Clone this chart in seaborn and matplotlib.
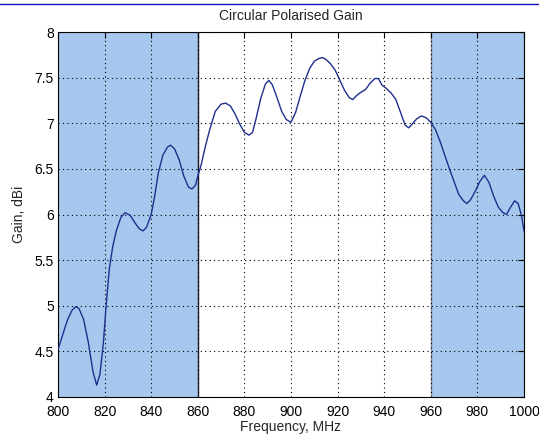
import matplotlib
matplotlib.use("Agg")
import matplotlib.pyplot as plt
from matplotlib.lines import Line2D
import numpy as np
import pandas as pd
import seaborn as sns

# Measured circular polarised gain across the band
freq_mhz = [800, 802, 804, 806, 807.6, 809, 811, 813, 815, 816.6, 818, 819.5,
            820.5, 822, 823.5, 825, 827, 828.8, 831, 833, 835, 836.5, 838, 840,
            841.5, 843, 845, 847, 848.3, 850, 852, 854, 856, 857.5, 859, 860,
            861.5, 863, 865, 867.5, 870, 872, 874, 876, 878, 880, 882, 883.5,
            885, 887, 889, 890.5, 892, 894, 896, 898, 900, 902, 904, 906, 908,
            910, 912, 913.5, 915, 917, 919, 921, 923, 925, 926.5, 928, 930, 932,
            934, 936, 937.5, 939, 941, 943, 945, 947, 949, 950.5, 952, 954, 956,
            958, 960, 962, 964, 966, 968, 970, 972, 974, 975.5, 977, 979, 981,
            983, 985, 987, 989, 991, 992.5, 994, 996, 997.5, 999, 1000]
gain_dbi = [4.52, 4.68, 4.84, 4.95, 4.99, 4.97, 4.85, 4.60, 4.28, 4.13, 4.25, 4.60,
            4.95, 5.40, 5.65, 5.82, 5.97, 6.02, 5.99, 5.91, 5.84, 5.82, 5.86, 6.00,
            6.20, 6.45, 6.65, 6.74, 6.76, 6.72, 6.60, 6.42, 6.30, 6.28, 6.32, 6.42,
            6.55, 6.72, 6.92, 7.13, 7.21, 7.22, 7.19, 7.10, 6.99, 6.90, 6.87, 6.90,
            7.05, 7.27, 7.43, 7.47, 7.42, 7.28, 7.13, 7.04, 7.01, 7.12, 7.30, 7.47, 7.60,
            7.68, 7.71, 7.72, 7.70, 7.65, 7.58, 7.47, 7.36, 7.28, 7.26, 7.30, 7.34, 7.37,
            7.44, 7.49, 7.49, 7.42, 7.38, 7.33, 7.26, 7.12, 6.98, 6.95, 6.99, 7.05, 7.08,
            7.06, 7.01, 6.93, 6.80, 6.65, 6.50, 6.36, 6.22, 6.15, 6.12, 6.16, 6.25, 6.36,
            6.43, 6.35, 6.20, 6.08, 6.02, 6.00, 6.07, 6.15, 6.12, 5.98, 5.82]

# Out-of-band regions (shaded)
shaded_bands = [(800, 860), (960, 1000)]

x_ticks = [800, 820, 840, 860, 880, 900, 920, 940, 960, 980, 1000]
y_ticks = [4, 4.5, 5, 5.5, 6, 6.5, 7, 7.5, 8]
y_tick_labels = ["4", "4.5", "5", "5.5", "6", "6.5", "7", "7.5", "8"]

sns.set_style("white")
plt.rcParams["font.family"] = ["Liberation Sans", "DejaVu Sans"]

fig = plt.figure(figsize=(5.39, 4.37), dpi=100)
ax = fig.add_axes([58 / 539, 40 / 437, 466 / 539, 365 / 437])

band_color = "#a7c8ee"
for lo, hi in shaded_bands:
    ax.axvspan(lo, hi, facecolor=band_color, edgecolor="none", zorder=0)
ax.axvline(860, color="#1a1a2a", lw=1.0, zorder=1)
ax.axvline(960, color="#7f8a99", lw=1.0, zorder=1)

df = pd.DataFrame({"Frequency": freq_mhz, "Gain": gain_dbi})
sns.lineplot(data=df, x="Frequency", y="Gain", ax=ax, color="#1f2f8c",
             lw=1.0, sort=False, zorder=3)

ax.set_xlim(800, 1000)
ax.set_ylim(4, 8)
ax.set_xticks(x_ticks)
ax.set_yticks(y_ticks)
ax.set_yticklabels(y_tick_labels)
ax.grid(True, color="black", linestyle=(0, (1, 3)), lw=0.8, zorder=2)
ax.set_axisbelow(False)

ax.tick_params(direction="in", length=4, width=0.8, top=True, right=True,
               labelsize=10, colors="black")
ax.tick_params(axis="x", pad=5.5)
ax.tick_params(axis="y", pad=3)
for side in ax.spines.values():
    side.set_color("black")
    side.set_linewidth(0.8)

ax.set_title("Circular Polarised Gain", fontsize=10, pad=9)
ax.set_xlabel("Frequency, MHz", fontsize=10, labelpad=1)
ax.set_ylabel("Gain, dBi", fontsize=10, labelpad=6)

fig.add_artist(Line2D([0, 1], [1 - 3.5 / 437, 1 - 3.5 / 437],
                      transform=fig.transFigure, color="#1010c0", lw=1.0))

fig.savefig("out.png", dpi=100)
